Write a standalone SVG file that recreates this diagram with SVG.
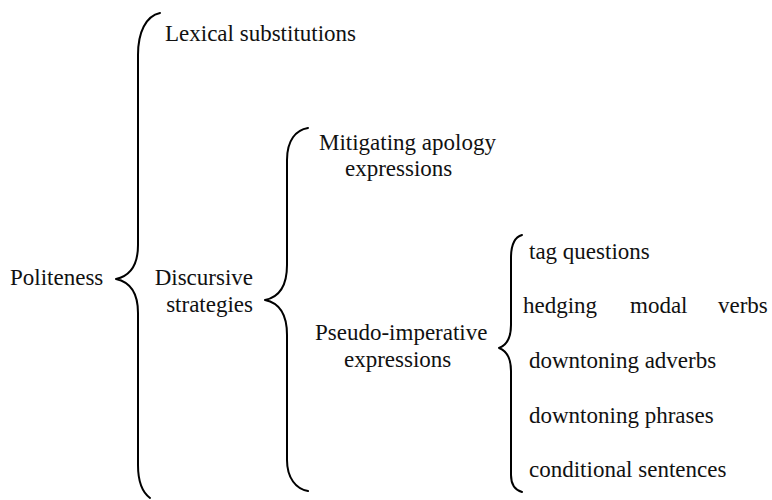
<svg xmlns="http://www.w3.org/2000/svg" width="772" height="500" viewBox="0 0 772 500">
<style>
text{font-family:"Liberation Serif","Times New Roman",serif;font-size:23px;fill:#111}
.brace{fill:none;stroke:#000;stroke-width:2;stroke-linecap:round;stroke-linejoin:round}
</style>
<rect width="772" height="500" fill="#fff"/>
<g id="connectors">
<path class="brace" d="M160,13 C146,16 138,32 138,55 L138,245 C138,265 130,276 116,279 C130,282 138,293 138,313 L138,465 C138,480 142,492 150,498"/>
<path class="brace" d="M308,128 C296,130 287,140 287,160 L287,265 C287,285 280,297 265,300 C280,303 287,315 287,335 L287,460 C287,478 296,489 308,491"/>
<path class="brace" d="M522,235 C515,237 511,245 511,258 L511,325 C511,338 507,345 499,348 C507,351 511,358 511,371 L511,475 C511,485 515,490 522,492"/>
</g>
<g id="politeness"><text x="10" y="285">Politeness</text></g>
<g id="lexical"><text x="165" y="41">Lexical substitutions</text></g>
<g id="discursive"><text x="253" y="285" text-anchor="end">Discursive</text><text x="253" y="312" text-anchor="end">strategies</text></g>
<g id="mitigating"><text x="319" y="150">Mitigating apology</text><text x="345" y="176">expressions</text></g>
<g id="pseudo"><text x="315" y="340">Pseudo-imperative</text><text x="344" y="367">expressions</text></g>
<g id="tag"><text x="529" y="259">tag questions</text></g>
<g id="hedging"><text x="523" y="313">hedging</text><text x="630" y="313">modal</text><text x="718" y="313">verbs</text></g>
<g id="adverbs"><text x="529" y="368">downtoning adverbs</text></g>
<g id="phrases"><text x="529" y="423">downtoning phrases</text></g>
<g id="conditional"><text x="529" y="477">conditional sentences</text></g>
</svg>
